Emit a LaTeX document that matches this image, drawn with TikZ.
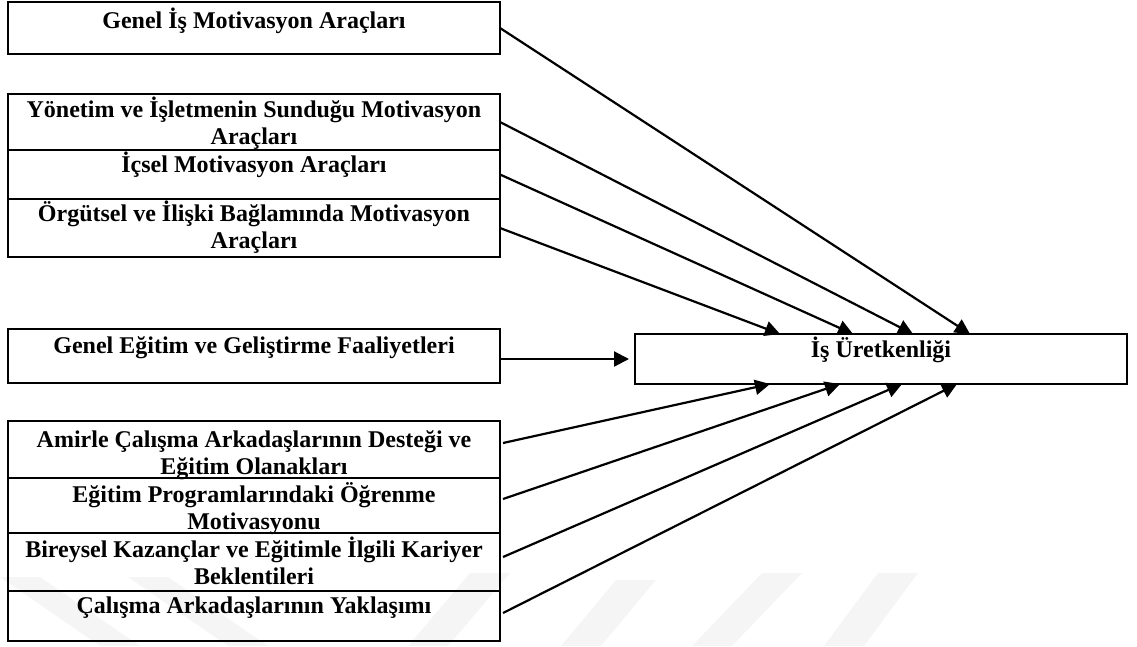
\documentclass[tikz,border=0pt]{standalone}
\usepackage{fontspec}
\setmainfont{Liberation Serif}
\usetikzlibrary{arrows.meta}
\newcommand\mylblfont{\fontsize{24}{27}\selectfont\bfseries\lineskiplimit=-20pt\relax}
\definecolor{wmgray}{HTML}{F5F5F5}
\begin{document}
\begin{tikzpicture}[x=1pt,y=-1pt,
  box/.style={draw=black,line width=2.4pt,minimum width=492pt,inner sep=0pt,outer sep=0pt},
  lbl/.style={anchor=north,inner sep=0pt,align=center,font=\mylblfont},
  conn/.style={draw=black,line width=2.2pt,-{Triangle[length=15pt,width=15pt]}},
  wm/.style={fill=wmgray,draw=none}]
\useasboundingbox (0,0) rectangle (1137,646);
% faint watermark bands
\fill[wm] (0,577) -- (40,577) -- (140,646) -- (100,646) -- cycle;
\fill[wm] (128,577) -- (168,577) -- (268,646) -- (228,646) -- cycle;
\fill[wm] (470,573) -- (510,573) -- (448,646) -- (408,646) -- cycle;
\fill[wm] (616,580) -- (656,580) -- (601,646) -- (561,646) -- cycle;
\fill[wm] (762,573) -- (802,573) -- (732,646) -- (692,646) -- cycle;
\fill[wm] (878,573) -- (918,573) -- (864,646) -- (824,646) -- cycle;
% boxes
\node[box,minimum height=52pt] (b1) at (254,28) {};
\node[box,minimum height=56pt] (b2) at (254,122) {};
\node[box,minimum height=49pt] (b3) at (254,174.5) {};
\node[box,minimum height=58pt] (b4) at (254,228) {};
\node[box,minimum height=54pt] (b5) at (254,356) {};
\node[box,minimum height=57pt] (b6) at (254,449.5) {};
\node[box,minimum height=55pt] (b7) at (254,505.5) {};
\node[box,minimum height=58pt] (b8) at (254,562) {};
\node[box,minimum height=50pt] (b9) at (254,616) {};
\node[box,minimum height=50pt] (tgt) at (881,359) {};
% labels
\node[lbl] (l1) at (254,6) {\rule{0pt}{22pt}Genel İş Motivasyon Araçları};
\node[lbl] (l2) at (254,95) {\rule{0pt}{22pt}Yönetim ve İşletmenin Sunduğu Motivasyon\\Araçları};
\node[lbl] (l3) at (254,150) {\rule{0pt}{22pt}İçsel Motivasyon Araçları};
\node[lbl] (l4) at (254,199) {\rule{0pt}{22pt}Örgütsel ve İlişki Bağlamında Motivasyon\\Araçları};
\node[lbl] (l5) at (254,331) {\rule{0pt}{22pt}Genel Eğitim ve Geliştirme Faaliyetleri};
\node[lbl] (l6) at (254,425) {\rule{0pt}{22pt}Amirle Çalışma Arkadaşlarının Desteği ve\\Eğitim Olanakları};
\node[lbl] (l7) at (254,480) {\rule{0pt}{22pt}Eğitim Programlarındaki Öğrenme\\Motivasyonu};
\node[lbl] (l8) at (254,535) {\rule{0pt}{22pt}Bireysel Kazançlar ve Eğitimle İlgili Kariyer\\Beklentileri};
\node[lbl] (l9) at (254,591) {\rule{0pt}{22pt}Çalışma Arkadaşlarının Yaklaşımı};
\node[lbl] (lt) at (881,335) {\rule{0pt}{22pt}İş Üretkenliği};
% connectors
\draw[conn] (b1.east) -- ([xshift=335pt]tgt.north west);
\draw[conn] (b2.east) -- ([xshift=278pt]tgt.north west);
\draw[conn] (b3.east) -- ([xshift=218pt]tgt.north west);
\draw[conn] (b4.east) -- ([xshift=145pt]tgt.north west);
\draw[conn] ([yshift=-3pt]b5.east) -- ([xshift=-6pt]tgt.west);
\draw[conn] ([xshift=3pt,yshift=6.5pt]b6.east) -- ([xshift=135pt]tgt.south west);
\draw[conn] ([xshift=3pt,yshift=6.5pt]b7.east) -- ([xshift=205pt]tgt.south west);
\draw[conn] ([xshift=3pt,yshift=5pt]b8.east) -- ([xshift=267pt]tgt.south west);
\draw[conn] ([xshift=3pt,yshift=3pt]b9.east) -- ([xshift=322pt]tgt.south west);
\end{tikzpicture}
\end{document}
